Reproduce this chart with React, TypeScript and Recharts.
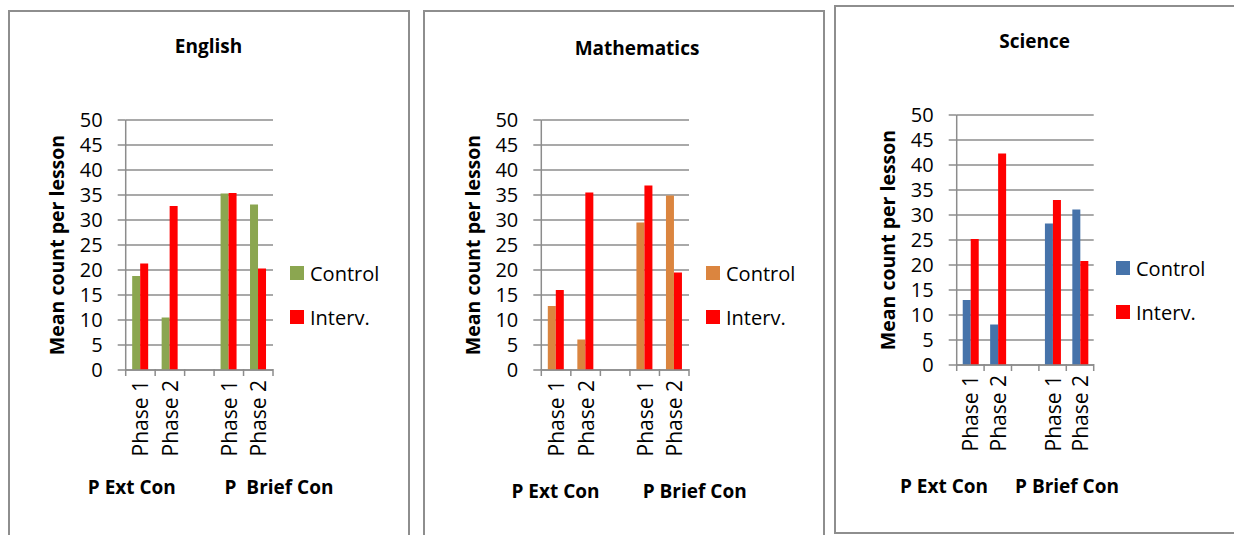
import { BarChart, Bar, XAxis, YAxis, CartesianGrid, Legend } from 'recharts'

const FONT = '"Open Sans", sans-serif'
const GRID = '#8c8c8c'
const RED = '#ff0000'
const TICK_GAP = 10

const phases = ['Phase 1', 'Phase 2', '', 'Phase 1', 'Phase 2']
const yTicks = [0, 5, 10, 15, 20, 25, 30, 35, 40, 45, 50]
const seriesNames = ['Control', 'Interv.']

const englishControl = [18.8, 10.5, null, 35.3, 33.1]
const englishInterv = [21.3, 32.8, null, 35.4, 20.3]
const mathControl = [12.8, 6.1, null, 29.5, 34.9]
const mathInterv = [16.0, 35.5, null, 36.9, 19.5]
const scienceControl = [13.0, 8.1, null, 28.3, 31.1]
const scienceInterv = [25.2, 42.3, null, 33.0, 20.8]

const buildRows = (control: (number | null)[], interv: (number | null)[]) =>
  phases.map((phase, i) => ({ phase, control: control[i], interv: interv[i] }))

// category label plus the small tick marks on the category boundaries
const PhaseTick = (props: any) => {
  const { x, y, payload, index, visibleTicksCount } = props
  const half = payload.offset || 0
  const axisY = y - TICK_GAP - 1
  const isLast = index === visibleTicksCount - 1
  return (
    <g>
      <line x1={x - half} x2={x - half} y1={axisY} y2={axisY + 7} stroke={GRID} strokeWidth={1.5} />
      {isLast && <line x1={x + half} x2={x + half} y1={axisY} y2={axisY + 7} stroke={GRID} strokeWidth={1.5} />}
      <text
        x={x}
        y={y}
        transform={`rotate(-90 ${x} ${y})`}
        textAnchor="end"
        dominantBaseline="central"
        fontSize={21}
        fontFamily={FONT}
        fill="#000"
      >
        {payload.value}
      </text>
    </g>
  )
}

const AxisTitle = (props: any) => {
  const vb = props.viewBox
  const cx = vb.x - 24
  const cy = vb.y + vb.height / 2
  return (
    <text
      x={cx}
      y={cy}
      transform={`rotate(-90 ${cx} ${cy})`}
      textAnchor="middle"
      dominantBaseline="central"
      fontSize={19.5}
      fontWeight={700}
      fontFamily={FONT}
      fill="#000"
    >
      Mean count per lesson
    </text>
  )
}

const renderLegend = (props: any) => (
  <div style={{ fontFamily: FONT, fontSize: 20, color: '#000' }}>
    {props.payload.map((entry: any) => (
      <div key={entry.value} style={{ height: 44, display: 'flex', alignItems: 'center' }}>
        <span style={{ width: 14, height: 14, background: entry.color, marginRight: 6, display: 'inline-block' }} />
        <span>{entry.value}</span>
      </div>
    ))}
  </div>
)

interface PanelProps {
  control: (number | null)[]
  interv: (number | null)[]
  color: string
  left: number
  width: number
  margin: { top: number; right: number; bottom: number; left: number }
  legendLeft: number
  legendTop: number
}

function SubjectChart({ control, interv, color, left, width, margin, legendLeft, legendTop }: PanelProps) {
  const rows = buildRows(control, interv)
  return (
    <div style={{ position: 'absolute', left, top: 0 }}>
      <BarChart width={width} height={535} data={rows} margin={margin} barCategoryGap="22%" barGap={0}>
        <CartesianGrid vertical={false} stroke={GRID} strokeWidth={1.5} />
        <XAxis
          dataKey="phase"
          height={1}
          tickLine={false}
          tickSize={0}
          tickMargin={TICK_GAP}
          axisLine={{ stroke: GRID, strokeWidth: 1.5 }}
          tick={<PhaseTick />}
          interval={0}
        />
        <YAxis
          width={45}
          domain={[0, 50]}
          ticks={yTicks}
          interval={0}
          tickSize={8}
          tickMargin={15}
          tickLine={{ stroke: GRID, strokeWidth: 1.5 }}
          axisLine={{ stroke: GRID, strokeWidth: 1.5 }}
          tick={{ fontSize: 20, fill: '#000', fontFamily: FONT }}
          label={{ content: <AxisTitle /> }}
        />
        <Legend
          layout="vertical"
          align="center"
          verticalAlign="middle"
          content={renderLegend}
          wrapperStyle={{ left: legendLeft, top: legendTop, width: 'auto' }}
        />
        <Bar dataKey="control" name={seriesNames[0]} fill={color} isAnimationActive={false} />
        <Bar dataKey="interv" name={seriesNames[1]} fill={RED} isAnimationActive={false} />
      </BarChart>
    </div>
  )
}

const textBase = {
  position: 'absolute' as const,
  transform: 'translate(-50%, -50%)',
  whiteSpace: 'pre' as const,
  lineHeight: 1,
  fontFamily: FONT,
  fontWeight: 700,
  fontSize: 19,
  color: '#000',
}

function Label({ x, y, text }: { x: number; y: number; text: string }) {
  return <div style={{ ...textBase, left: x, top: y }}>{text}</div>
}

const frame = {
  position: 'absolute' as const,
  boxSizing: 'border-box' as const,
  border: '2px solid #8e8e8e',
  background: '#fff',
}

export default function App() {
  return (
    <div style={{ position: 'absolute', left: 0, top: 0, width: 1234, height: 535, overflow: 'hidden', background: '#fff' }}>
      <div style={{ ...frame, left: 8, top: 10, width: 402, height: 540 }} />
      <div style={{ ...frame, left: 423, top: 10, width: 402, height: 540 }} />
      <div style={{ ...frame, left: 834, top: 5, width: 404, height: 529 }} />

      <SubjectChart
        control={englishControl}
        interv={englishInterv}
        color="#8ba650"
        left={0}
        width={410}
        margin={{ top: 120, right: 137, bottom: 164, left: 80.7 }}
        legendLeft={290}
        legendTop={251}
      />
      <SubjectChart
        control={mathControl}
        interv={mathInterv}
        color="#db853f"
        left={415}
        width={410}
        margin={{ top: 120, right: 136, bottom: 164, left: 81.3 }}
        legendLeft={291}
        legendTop={251}
      />
      <SubjectChart
        control={scienceControl}
        interv={scienceInterv}
        color="#4673aa"
        left={830}
        width={404}
        margin={{ top: 115, right: 140.3, bottom: 169, left: 81.7 }}
        legendLeft={286}
        legendTop={246}
      />

      <Label x={208.5} y={46} text="English" />
      <Label x={637} y={48} text="Mathematics" />
      <Label x={1034.7} y={41} text="Science" />

      <Label x={131.8} y={487} text="P Ext Con" />
      <Label x={279} y={487} text="P  Brief Con" />
      <Label x={555.5} y={491} text="P Ext Con" />
      <Label x={694.7} y={491} text="P Brief Con" />
      <Label x={944} y={486} text="P Ext Con" />
      <Label x={1067} y={486} text="P Brief Con" />
    </div>
  )
}
